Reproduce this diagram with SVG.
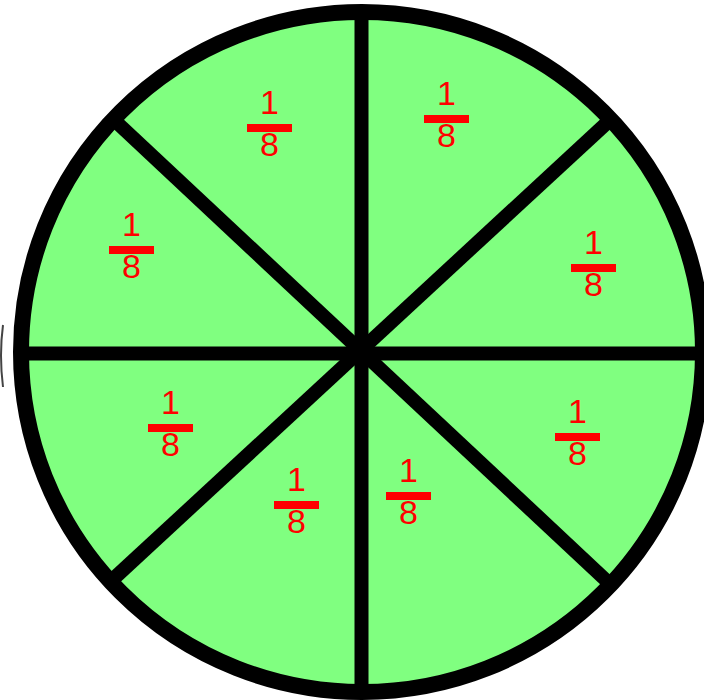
<svg xmlns="http://www.w3.org/2000/svg" width="704" height="700" viewBox="0 0 704 700">
<style>
text{font-family:"Liberation Sans",Arial,sans-serif;font-size:34px;fill:#FF0000;text-anchor:middle}
.bar{fill:#FF0000}
.spoke{stroke:#000;stroke-width:14;stroke-linecap:butt;fill:none}
</style>
<rect width="704" height="700" fill="#FFFFFF"/>
<path d="M3,325 Q-1,355 3,387" stroke="#444" stroke-width="2" fill="none"/>
<g id="circle">
<ellipse cx="362" cy="352" rx="341" ry="340" fill="#80FF80" stroke="#000" stroke-width="16"/>
</g>
<g id="connectors">
<line class="spoke" x1="361.5" y1="12" x2="361.5" y2="692"/>
<line class="spoke" x1="22" y1="353.5" x2="704" y2="353.5"/>
<line class="spoke" x1="112" y1="118" x2="610" y2="584"/>
<line class="spoke" x1="610" y1="120" x2="110" y2="582"/>
</g>
<g id="label1" transform="translate(269.5,124)"><text x="0" y="-10.5">1</text><rect class="bar" x="-22.5" y="0" width="45" height="8"/><text x="0" y="31.5">8</text></g>
<g id="label2" transform="translate(446.5,115)"><text x="0" y="-10.5">1</text><rect class="bar" x="-22.5" y="0" width="45" height="8"/><text x="0" y="31.5">8</text></g>
<g id="label3" transform="translate(131.5,246)"><text x="0" y="-10.5">1</text><rect class="bar" x="-22.5" y="0" width="45" height="8"/><text x="0" y="31.5">8</text></g>
<g id="label4" transform="translate(593.5,264)"><text x="0" y="-10.5">1</text><rect class="bar" x="-22.5" y="0" width="45" height="8"/><text x="0" y="31.5">8</text></g>
<g id="label5" transform="translate(170.5,424)"><text x="0" y="-10.5">1</text><rect class="bar" x="-22.5" y="0" width="45" height="8"/><text x="0" y="31.5">8</text></g>
<g id="label6" transform="translate(577.5,433)"><text x="0" y="-10.5">1</text><rect class="bar" x="-22.5" y="0" width="45" height="8"/><text x="0" y="31.5">8</text></g>
<g id="label7" transform="translate(296.5,501)"><text x="0" y="-10.5">1</text><rect class="bar" x="-22.5" y="0" width="45" height="8"/><text x="0" y="31.5">8</text></g>
<g id="label8" transform="translate(408.5,492)"><text x="0" y="-10.5">1</text><rect class="bar" x="-22.5" y="0" width="45" height="8"/><text x="0" y="31.5">8</text></g>
</svg>
